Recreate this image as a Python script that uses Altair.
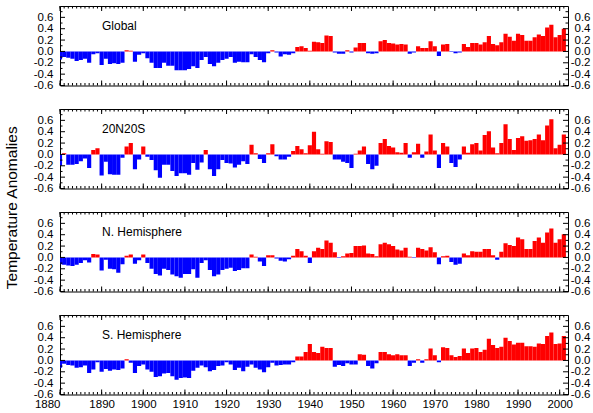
import altair as alt
import pandas as pd

years = list(range(1880, 2002))

global_vals = [
    -0.14, -0.10, -0.11, -0.13, -0.17, -0.15, -0.13, -0.20, -0.05, -0.03,
    -0.24, -0.13, -0.22, -0.21, -0.22, -0.20, 0.02, 0.01, -0.18, -0.06,
    -0.03, -0.12, -0.20, -0.29, -0.29, -0.20, -0.25, -0.25, -0.33, -0.33,
    -0.33, -0.31, -0.26, -0.29, -0.15, -0.10, -0.22, -0.26, -0.20, -0.15,
    -0.13, -0.10, -0.20, -0.18, -0.19, -0.19, -0.05, -0.10, -0.15, -0.19,
    -0.03, 0.02, -0.02, -0.09, -0.05, -0.06, -0.03, 0.08, 0.09, 0.06,
    0.01, 0.17, 0.16, 0.15, 0.28, 0.27, -0.02, -0.04, -0.04, 0.02,
    -0.02, 0.07, 0.15, 0.15, -0.03, -0.04, -0.03, 0.18, 0.20, 0.15,
    0.14, 0.12, 0.13, 0.12, -0.04, -0.02, 0.09, 0.06, 0.06, 0.18,
    0.09, -0.08, 0.12, 0.13, -0.01, -0.03, -0.02, 0.13, 0.08, 0.15,
    0.15, 0.12, 0.16, 0.27, 0.13, 0.11, 0.16, 0.31, 0.26, 0.19,
    0.31, 0.29, 0.19, 0.19, 0.25, 0.30, 0.27, 0.42, 0.47, 0.25,
    0.29, 0.40,
]

tropics_vals = [
    -0.20, 0.02, -0.18, -0.18, -0.17, -0.12, -0.07, -0.24, 0.08, 0.11,
    -0.37, -0.13, -0.35, -0.36, -0.36, -0.06, 0.14, 0.20, -0.26, -0.09,
    0.14, -0.04, -0.10, -0.28, -0.41, -0.18, -0.18, -0.29, -0.38, -0.33,
    -0.33, -0.36, -0.15, -0.27, -0.14, 0.08, -0.26, -0.38, -0.26, -0.10,
    -0.15, -0.16, -0.23, -0.18, -0.12, -0.17, 0.17, 0.02, -0.08, -0.15,
    0.02, 0.18, -0.03, -0.09, -0.09, -0.04, 0.06, 0.15, 0.09, 0.02,
    0.16, 0.40, 0.09, 0.01, 0.23, 0.22, -0.09, -0.09, -0.13, -0.15,
    -0.24, 0.01, 0.07, 0.14, -0.17, -0.26, -0.20, 0.20, 0.27, 0.15,
    0.12, 0.04, 0.03, 0.20, -0.06, 0.04, 0.19, -0.06, 0.05, 0.35,
    0.07, -0.24, 0.20, 0.14, -0.15, -0.22, -0.09, 0.14, 0.03, 0.18,
    0.20, 0.07, 0.34, 0.41, 0.12, 0.02, 0.20, 0.53, 0.27, 0.08,
    0.29, 0.32, 0.24, 0.25, 0.27, 0.35, 0.25, 0.51, 0.62, 0.11,
    0.17, 0.35,
]

nh_vals = [
    -0.12, -0.13, -0.14, -0.15, -0.13, -0.10, -0.05, -0.09, 0.06, 0.05,
    -0.23, -0.04, -0.20, -0.21, -0.27, -0.12, 0.03, 0.05, -0.11, -0.05,
    0.05, -0.10, -0.20, -0.29, -0.32, -0.20, -0.22, -0.30, -0.33, -0.36,
    -0.29, -0.29, -0.21, -0.36, -0.10, -0.05, -0.22, -0.33, -0.30, -0.22,
    -0.20, -0.18, -0.24, -0.22, -0.19, -0.19, 0.05, 0.01, -0.07, -0.15,
    0.04, 0.04, -0.02, -0.06, -0.07, -0.03, 0.03, 0.15, 0.11, 0.03,
    -0.10, 0.11, 0.17, 0.15, 0.30, 0.26, 0.09, -0.01, 0.02, 0.07,
    0.08, 0.20, 0.20, 0.21, 0.07, 0.06, 0.02, 0.23, 0.26, 0.23,
    0.20, 0.14, 0.12, 0.17, 0.01, -0.01, 0.17, 0.15, 0.12, 0.18,
    0.09, -0.12, 0.02, 0.03, -0.08, -0.13, -0.11, 0.07, 0.04, 0.11,
    0.10, 0.10, 0.15, 0.15, 0.04, -0.04, 0.10, 0.25, 0.22, 0.20,
    0.35, 0.32, 0.15, 0.15, 0.29, 0.35, 0.26, 0.44, 0.51, 0.26,
    0.32, 0.41,
]

sh_vals = [
    -0.13, -0.06, -0.08, -0.09, -0.13, -0.12, -0.09, -0.22, -0.16, -0.03,
    -0.20, -0.15, -0.18, -0.16, -0.17, -0.14, 0.02, -0.04, -0.22, -0.10,
    -0.07, -0.16, -0.20, -0.29, -0.28, -0.23, -0.22, -0.28, -0.34, -0.31,
    -0.30, -0.31, -0.18, -0.13, -0.09, -0.12, -0.19, -0.17, -0.10, -0.09,
    -0.03, -0.07, -0.17, -0.13, -0.19, -0.11, -0.07, -0.13, -0.16, -0.21,
    -0.12, -0.04, -0.09, -0.08, -0.07, -0.07, -0.03, 0.07, 0.07, 0.15,
    0.29, 0.15, 0.13, 0.24, 0.22, 0.22, -0.11, -0.08, -0.10, -0.05,
    -0.07, -0.07, 0.11, 0.10, -0.10, -0.14, -0.05, 0.15, 0.15, 0.11,
    0.09, 0.11, 0.09, 0.09, -0.10, -0.04, 0.02, -0.04, 0.02, 0.21,
    0.09, -0.03, 0.23, 0.22, 0.09, 0.06, 0.08, 0.21, 0.13, 0.21,
    0.22, 0.15, 0.19, 0.38, 0.27, 0.22, 0.24, 0.40, 0.34, 0.28,
    0.31, 0.31, 0.25, 0.25, 0.24, 0.30, 0.29, 0.43, 0.49, 0.29,
    0.30, 0.43,
]

panel_names = ["Global", "20N20S", "N. Hemisphere", "S. Hemisphere"]
panel_values = [global_vals, tropics_vals, nh_vals, sh_vals]

x_label_years = list(range(1880, 2001, 10))
y_label_values = [-0.6, -0.4, -0.2, 0.0, 0.2, 0.4, 0.6]
y_minor_values = [-0.5, -0.3, -0.1, 0.1, 0.3, 0.5, 0.7]
tick_years = list(range(1880, 2002))

W, H = 508, 79.5
FONT = "Liberation Sans"
RED, BLUE = "#ff0000", "#0000ff"
LABEL_EXPR = "(datum.value < 0 ? '-' : '') + format(abs(datum.value), '.1f')"


def panel(name, vals, show_x):
    assert len(vals) == len(years)
    df = pd.DataFrame({"year": years, "value": vals})
    xscale = alt.Scale(domain=[1880, 2002], nice=False, zero=False)
    yscale = alt.Scale(domain=[-0.6, 0.8], nice=False, zero=False)

    if show_x:
        xaxis = alt.Axis(
            values=x_label_years, format="d", title=None, domain=False,
            ticks=False, grid=False, labelFont=FONT, labelFontSize=11.5,
            labelColor="black", labelPadding=4, labelFlush=False,
            labelOverlap=False,
            labelAlign={"condition": {"test": "datum.value == 1880", "value": "right"},
                        "value": "center"},
        )
    else:
        xaxis = None

    left_axis = alt.Axis(
        values=y_label_values, title=None, domain=False, ticks=False,
        grid=False, labelFont=FONT, labelFontSize=11.5, labelColor="black",
        labelExpr=LABEL_EXPR, labelPadding=7, labelOverlap=False,
    )
    right_axis = alt.Axis(
        orient="right", values=y_label_values, title=None, domain=False,
        ticks=False, grid=False, labelFont=FONT, labelFontSize=11.5,
        labelColor="black", labelExpr=LABEL_EXPR, labelPadding=22,
        labelAlign="right", labelOverlap=False,
    )

    bars = alt.Chart(df).transform_calculate(
        x0="datum.year - 0.5", x1="datum.year + 0.5"
    ).mark_bar(strokeWidth=0, clip=True).encode(
        x=alt.X("x0:Q", scale=xscale, axis=xaxis),
        x2="x1:Q",
        y=alt.Y("value:Q", scale=yscale, axis=left_axis),
        y2=alt.datum(0),
        color=alt.condition("datum.value >= 0", alt.value(RED), alt.value(BLUE)),
    )

    tdf = pd.DataFrame({"t": tick_years})
    minor_top = alt.Chart(tdf).mark_rule(color="black", strokeWidth=1).encode(
        x=alt.X("t:Q", scale=xscale, axis=None), y=alt.value(0), y2=alt.value(2.5))
    minor_bot = alt.Chart(tdf).mark_rule(color="black", strokeWidth=1).encode(
        x=alt.X("t:Q", scale=xscale, axis=None), y=alt.value(H), y2=alt.value(H - 2.5))
    major_top = alt.Chart(tdf).transform_filter("datum.t % 10 == 0").mark_rule(
        color="black", strokeWidth=1).encode(
        x=alt.X("t:Q", scale=xscale, axis=None), y=alt.value(0), y2=alt.value(5))
    major_bot = alt.Chart(tdf).transform_filter("datum.t % 10 == 0").mark_rule(
        color="black", strokeWidth=1).encode(
        x=alt.X("t:Q", scale=xscale, axis=None), y=alt.value(H), y2=alt.value(H - 5))

    ymaj = pd.DataFrame({"v": y_label_values})
    ymin = pd.DataFrame({"v": y_minor_values})
    left_major = alt.Chart(ymaj).mark_rule(color="black", strokeWidth=1).encode(
        y=alt.Y("v:Q", scale=yscale, axis=None), x=alt.value(0), x2=alt.value(5))
    left_minor = alt.Chart(ymin).mark_rule(color="black", strokeWidth=1).encode(
        y=alt.Y("v:Q", scale=yscale, axis=None), x=alt.value(0), x2=alt.value(2.5))
    right_major = alt.Chart(ymaj).mark_rule(color="black", strokeWidth=1).encode(
        y=alt.Y("v:Q", scale=yscale, axis=right_axis), x=alt.value(W), x2=alt.value(W - 5))
    right_minor = alt.Chart(ymin).mark_rule(color="black", strokeWidth=1).encode(
        y=alt.Y("v:Q", scale=yscale, axis=None), x=alt.value(W), x2=alt.value(W - 2.5))

    label = alt.Chart(pd.DataFrame({"name": [name]})).mark_text(
        align="left", baseline="alphabetic", font=FONT, fontSize=12, color="black"
    ).encode(text="name:N", x=alt.value(42), y=alt.value(24))

    return alt.layer(
        bars, minor_top, minor_bot, major_top, major_bot,
        left_major, left_minor, right_major, right_minor, label,
    ).resolve_scale(x="independent", y="independent").properties(width=W, height=H)


panels = [
    panel(n, v, i == len(panel_names) - 1)
    for i, (n, v) in enumerate(zip(panel_names, panel_values))
]

chart = alt.vconcat(*panels, spacing=16).properties(
    title=alt.TitleParams(
        "Temperature Anomalies", orient="left", anchor="middle",
        font=FONT, fontSize=15.5, fontWeight="normal", color="black", offset=12,
    ),
    padding={"left": 5, "top": 5, "right": 2, "bottom": 2},
    background="white",
).configure_view(stroke="black", strokeWidth=1)

chart.save("out.html", embed_options={"renderer": "svg", "actions": False})
